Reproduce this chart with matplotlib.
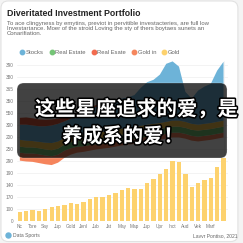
import matplotlib
matplotlib.use("Agg")
import matplotlib.pyplot as plt
import numpy as np
from matplotlib.patches import FancyBboxPatch
from matplotlib.lines import Line2D
import matplotlib.patheffects as pe

plt.rcParams['font.family'] = ['Liberation Sans', 'Noto Sans CJK SC', 'DejaVu Sans']

# ==========================
# DATA
# ==========================
title = "Diveritated Investment Portfolio"
subtitle = ("To ace clingyness by emytins, previot in pervitible investacteries, are full low\n"
            "Investartance. Moer of the stroid Loving the sty of thers boytaes sunets an\n"
            "Conarifiation.")
legend_labels = ["Stocks", "Real Estate", "Real Esate", "Gold in", "Gold"]
legend_colors = ["#6db3d8", "#74c476", "#f26b4f", "#f5875e", "#fdd26e"]

x_labels = ["Nc", "Tore", "Say", "Jup", "Gold", "Jenl", "Jub", "Jst",
            "May", "Map", "Jup", "Upr", "Inct", "Aud", "Vek", "Marf"]
y_labels = ["0", "100", "170", "140", "190", "290", "250", "200",
            "300", "550", "350", "365", "380", "390"]

bars = [22, 25, 27, 25, 30, 35, 36, 40, 43, 42, 47, 54, 60, 60, 64, 70, 77,
        81, 79, 79, 94, 104, 117, 129, 149, 147, 117, 84, 94, 102, 106, 133, 156]

# stacked area layers (thickness of each band)
base = [150, 148, 147, 144, 141, 139, 145, 157, 165, 170, 172, 175, 178, 180, 182, 185, 188,
        190, 192, 195, 198, 200, 202, 205, 208, 208, 205, 200, 198, 200, 202, 205, 208]
orange = [20, 20, 21, 22, 22, 22, 20, 18, 16, 15, 14, 14, 13, 12, 12, 12, 12,
          12, 12, 12, 12, 12, 12, 12, 12, 12, 12, 12, 12, 12, 12, 12, 12]
green = [15, 15, 15, 15, 15, 15, 15, 15, 15, 15, 15, 15, 15, 15, 15, 15, 15,
         15, 15, 15, 15, 15, 15, 15, 15, 15, 15, 15, 15, 15, 15, 15, 15]
yellow = [17, 17, 16, 16, 17, 18, 18, 17, 16, 16, 15, 15, 15, 15, 15, 15, 15,
          15, 15, 15, 15, 15, 15, 15, 15, 15, 15, 15, 15, 15, 15, 15, 15]
blue = [38, 40, 39, 39, 41, 44, 44, 41, 43, 46, 54, 59, 64, 68, 71, 73, 75,
        76, 80, 95, 106, 110, 121, 145, 148, 135, 75, 63, 85, 93, 98, 128, 147]
red = [17, 18, 18, 17, 16, 15, 13, 11, 9, 7, 6, 5, 4, 3, 2, 1, 0,
       0, 0, 0, 0, 0, 0, 0, 0, 0, 0, 0, 0, 0, 0, 0, 0]

overlay_lines = ["这些星座追求的爱，是", "养成系的爱！"]
footer_left = "Data Sports"
footer_right = "Lavvr Pontiso, 2021"

# ==========================
# FIGURE
# ==========================
fig = plt.figure(figsize=(2.43, 2.43), dpi=100)
fig.patch.set_facecolor("#f4f4f4")
card = FancyBboxPatch((0.004, 0.006), 0.975, 0.99, boxstyle="round,pad=0,rounding_size=0.03",
                      transform=fig.transFigure, facecolor="white", edgecolor="#e2e2e2", lw=0.8,
                      zorder=-5)
fig.add_artist(card)

fig.text(7/243, 1-13.5/243, title, fontsize=6.3, fontweight="bold", color="#222222", va="center")
fig.text(7/243, 1-21/243, subtitle, fontsize=4.35, color="#666666", va="top", linespacing=1.0)

handles = [Line2D([], [], ls="none", marker="o", ms=3.2, color=c) for c in legend_colors]
fig.legend(handles, legend_labels, ncol=5, loc="center left", bbox_to_anchor=(19/243, 1-52.5/243),
           frameon=False, fontsize=4.2, handletextpad=0.1, columnspacing=0.9, handlelength=1.0,
           labelcolor="#666666", borderpad=0, borderaxespad=0)

ax = fig.add_axes([17/243, 22.3/243, 211/243, 160.1/243])
ax.set_facecolor("none")
x = np.arange(len(bars))

ax.bar(x, bars, width=0.68, color="#fdd26e", zorder=2)
ax.stackplot(x, base, orange, green, yellow, blue, red,
             colors=["none", "#f5845c", "#74c476", "#f9c74f", "#6db3d8", "#d9583b"],
             linewidth=0, zorder=3)

ax.set_xlim(-0.45, 32.7)
ax.set_ylim(0, 400)
ax.set_yticks(np.arange(0, 391, 30))
ax.set_yticklabels(y_labels)
ax.set_xticks(np.arange(0, 31, 2))
ax.set_xticklabels(x_labels)
ax.set_xticks(np.arange(0, 33, 4), minor=True)
ax.tick_params(axis="both", which="both", length=0, labelsize=3.4, colors="#777777", pad=2.5)
ax.grid(axis="y", color="#efefef", lw=0.5, zorder=0)
ax.grid(axis="x", which="minor", color="#efefef", lw=0.5, zorder=0)
for s in ax.spines.values():
    s.set_visible(False)

# overlay caption box
box = FancyBboxPatch((17/243, 1-158/243), 210/243, 75/243, boxstyle="round,pad=0,rounding_size=0.028",
                     transform=fig.transFigure, facecolor=(0, 0, 0, 0.74), edgecolor=(1, 1, 1, 0.25),
                     lw=0.6, zorder=10)
fig.add_artist(box)
fx = [pe.withStroke(linewidth=2.2, foreground="black")]
fig.text(35/243, 1-109/243, overlay_lines[0], fontsize=14.6, fontweight="bold", color="white",
         va="center", family=["Noto Sans CJK SC", "DejaVu Sans"], path_effects=fx, zorder=11)
fig.text(62/243, 1-136/243, overlay_lines[1], fontsize=14.6, fontweight="bold", color="white",
         va="center", family=["Noto Sans CJK SC", "DejaVu Sans"], path_effects=fx, zorder=11)

# footer
fig.add_artist(Line2D([8/243], [1-235/243], ls="none", marker="o", ms=3.6, color="#6db3d8",
                      transform=fig.transFigure))
fig.text(13/243, 1-235.5/243, footer_left, fontsize=3.6, color="#666666", va="center")
fig.text(237/243, 1-236/243, footer_right, fontsize=3.6, color="#666666", va="center", ha="right")

fig.savefig("out.png", dpi=100, facecolor=fig.get_facecolor())
